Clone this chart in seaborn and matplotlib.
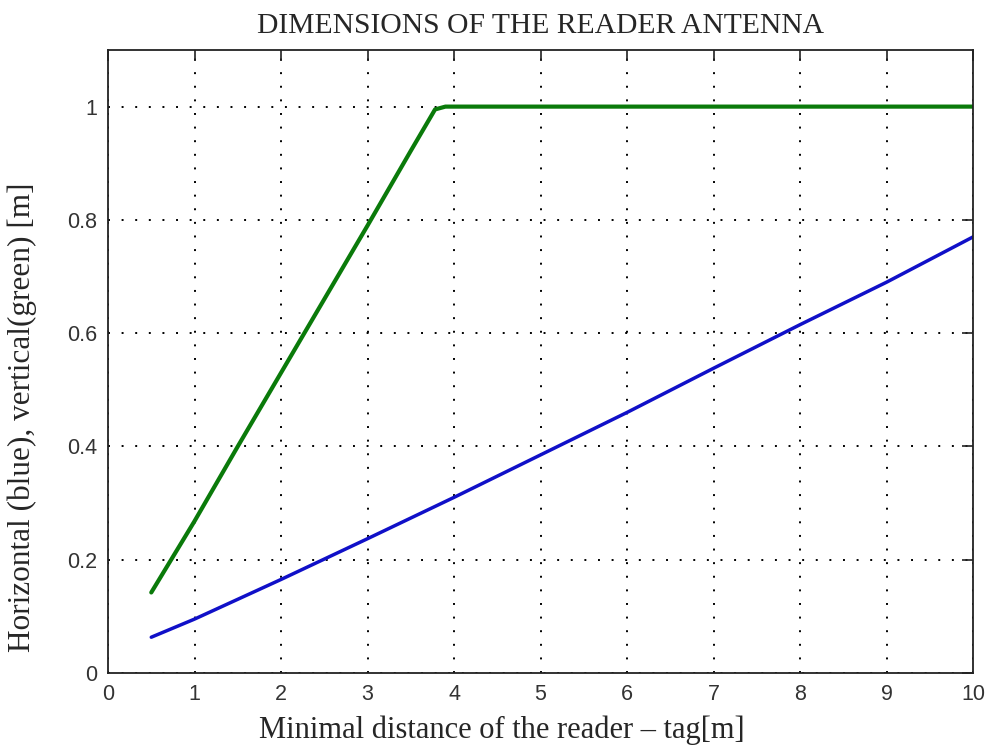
import pandas as pd
import seaborn as sns
import matplotlib.pyplot as plt
import numpy as np

# Values
dist_blue = [0.5, 1, 2, 3, 4, 5, 6, 7, 8, 9, 10]
horizontal = [0.063, 0.095, 0.165, 0.237, 0.31, 0.385, 0.46, 0.538, 0.615, 0.69, 0.77]

dist_green = [0.5, 0.75, 1, 1.5, 2, 2.5, 3, 3.5, 3.78, 3.9, 10]
vertical = [0.142, 0.205, 0.268, 0.4, 0.53, 0.66, 0.79, 0.922, 0.995, 1.0, 1.0]

x_ticks = list(range(0, 11))
y_ticks = [0, 0.2, 0.4, 0.6, 0.8, 1]
y_tick_labels = ['0', '0.2', '0.4', '0.6', '0.8', '1']

df_blue = pd.DataFrame({'dist': dist_blue, 'val': horizontal})
df_green = pd.DataFrame({'dist': dist_green, 'val': vertical})

sns.set_style('white')

fig = plt.figure(figsize=(9.91, 7.46), dpi=100)
ax = fig.add_axes([0.109, 0.098, 0.873, 0.835])

sns.lineplot(data=df_green, x='dist', y='val', color='#0a7a0a', linewidth=3, ax=ax)
sns.lineplot(data=df_blue, x='dist', y='val', color='#1010c8', linewidth=2.5, ax=ax)

ax.set_xlim(0, 10)
ax.set_ylim(0, 1.1)
ax.set_xticks(x_ticks)
ax.set_yticks(y_ticks)
ax.set_yticklabels(y_tick_labels)

ax.grid(True, linestyle=(0, (1, 6)), color='black', linewidth=1.4)
ax.tick_params(direction='in', length=8, width=1.2, top=True, right=True,
               labelsize=15.5, labelcolor='#333333', colors='#222222', pad=8)
for lab in ax.get_xticklabels() + ax.get_yticklabels():
    lab.set_family('Liberation Sans')
for sp in ax.spines.values():
    sp.set_color('#222222')
    sp.set_linewidth(1.3)

ax.set_xlabel('Minimal distance of the reader \u2013 tag[m]', family='Liberation Serif', fontsize=22)
ax.set_ylabel('Horizontal (blue), vertical(green) [m]', family='Liberation Serif', fontsize=22.5)
ax.xaxis.set_label_coords(0.455, -0.068)
ax.yaxis.set_label_coords(-0.082, 0.41)
ax.set_title('DIMENSIONS OF THE READER ANTENNA', family='Liberation Serif', fontsize=21.3, pad=12)

fig.savefig('out.png', dpi=100)
